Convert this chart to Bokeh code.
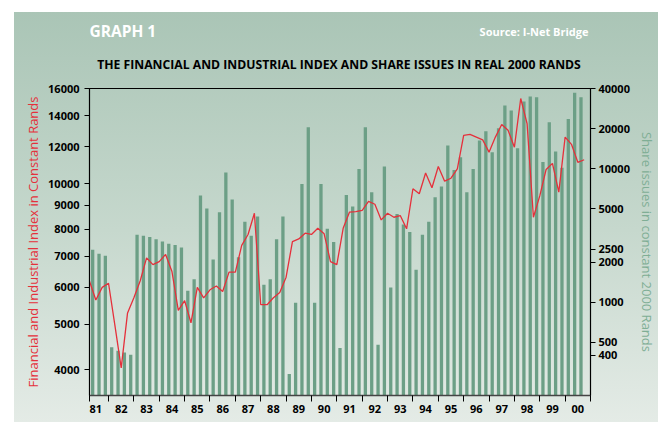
from bokeh.plotting import figure
from bokeh.layouts import column
from bokeh.models import (Range1d, LogScale, LogAxis, FixedTicker,
                          NumeralTickFormatter, Label, ColumnDataSource)
from bokeh.embed import file_html
from bokeh.resources import INLINE

# ---------------- data ----------------
first_year = 1981
first_quarter = 2          # series start in the 2nd quarter of 1981
last_year = 2000

year_labels = ["81", "82", "83", "84", "85", "86", "87", "88", "89", "90",
               "91", "92", "93", "94", "95", "96", "97", "98", "99", "00"]

left_ticks = [4000, 5000, 6000, 7000, 8000, 9000, 10000, 12000, 14000, 16000]
right_ticks = [400, 500, 1000, 2000, 2500, 5000, 10000, 20000, 40000]

# Share issues in constant 2000 Rands (quarterly bars, right axis)
share_issues = [
    2470, 2310, 2230,                       # 81
    460, 433, 420, 404,                     # 82
    3210, 3150, 3080, 2960,                 # 83
    2850, 2740, 2690, 2570,                 # 84
    1220, 1490, 6300, 5040,                 # 85
    2090, 4720, 9370, 5880,                 # 86
    2170, 4020, 3150, 4390,                 # 87
    1350, 1490, 2960, 4390,                 # 88
    290, 990, 7710, 20500,                  # 89
    990, 7710, 3560, 2830,                  # 90
    454, 6360, 5210, 9990,                  # 91
    20500, 6680, 481, 10400,                # 92
    1290, 4590, 3820, 3360,                 # 93
    1755, 3210, 4020, 6120,                 # 94
    7360, 14940, 9820, 12210,               # 95
    6680, 9990, 16300, 19130,               # 96
    13300, 20150, 29800, 27350,             # 97
    14260, 31950, 34830, 34430,             # 98
    11270, 22340, 13460, 10170,             # 99
    23680, 37100, 34430,                    # 00
]

# Financial and Industrial index in constant Rands (line, left axis)
fi_index = [
    6190, 5640, 6000, 6125, 4980, 4035, 5290, 5700, 6200, 6940,
    6715, 6815, 7060, 6490, 5360, 5620, 5040, 6000, 5700, 5930,
    6040, 5880, 6470, 6470, 7380, 7790, 8650, 5510, 5510, 5700,
    5850, 6310, 7520, 7620, 7840, 7790, 8030, 7815, 6815, 6715,
    8030, 8700, 8720, 8770, 9170, 9040, 8370, 8650, 8480, 8550,
    8010, 9760, 9520, 10550, 9810, 10890, 10130, 10280, 10770, 12700,
    12760, 12590, 12420, 11690, 12590, 13400, 13020, 11980, 15230, 13460,
    8480, 9420, 10730, 11060, 9600, 12590, 12150, 11120, 11260,
]

graph_no = "GRAPH 1"
source_text = "Source: I-Net Bridge"
title_text = "THE FINANCIAL AND INDUSTRIAL INDEX AND SHARE ISSUES IN REAL 2000 RANDS"
left_title = "Financial and Industrial Index in Constant Rands"
right_title = "Share issues in constant 2000 Rands"

# ---------------- derived positions ----------------
x_start = first_year + (first_quarter - 1) / 4.0
x_end = last_year + 1.0
bar_x = [x_start + 0.25 * i + 0.125 for i in range(len(share_issues))]
line_x = [x_start + 0.25 * i for i in range(len(fi_index))]
years = list(range(first_year, last_year + 1))
label_pos = [y + 0.5 for y in years]
boundaries = [x_start] + [y for y in years[1:]] + [x_end]

BAR = "#6c9f86"
RED = "#e5303b"
GREEN_TXT = "#7fae95"
FONT = "Open Sans"
W = 658
BL, BR = 89, 65            # left / right borders shared by both figures
HEAD_H = 78
MAIN_TOP = 10
FRAME_H = 307
MAIN_H = 352

# ---------------- header (texts) ----------------
head = figure(width=W, height=HEAD_H, x_range=Range1d(BL, W - BR),
              y_range=Range1d(HEAD_H, 0), output_backend="svg",
              toolbar_location=None, x_axis_location=None,
              y_axis_location=None, min_border_left=BL,
              min_border_right=BR, min_border_top=0, min_border_bottom=0)
head.background_fill_color = None
head.border_fill_color = None
head.outline_line_color = None
head.grid.visible = False


def add_text(txt, x, y, size, color, style="bold", align="left"):
    head.add_layout(Label(x=x, y=y, text=txt, text_font=FONT,
                          text_font_size=size, text_font_style=style,
                          text_color=color, text_align=align,
                          text_baseline="middle"))


add_text(graph_no, 89, 30, "15.5px", "white")
add_text(source_text, 591, 31, "11px", "white", align="right")
add_text(title_text, 340, 64, "12.2px", "black", align="center")

# ---------------- main chart ----------------
p = figure(width=W, height=MAIN_H,
           x_range=Range1d(x_start, x_end),
           y_range=Range1d(3521, 16000), y_axis_type="log",
           output_backend="svg", toolbar_location=None,
           min_border_left=BL, min_border_right=BR,
           min_border_top=MAIN_TOP,
           min_border_bottom=MAIN_H - MAIN_TOP - FRAME_H)

p.background_fill_color = None
p.border_fill_color = None
p.outline_line_color = "black"
p.outline_line_width = 1.2
p.grid.visible = False

p.extra_y_ranges = {"shares": Range1d(200, 40000)}
p.extra_y_scales = {"shares": LogScale()}

src_b = ColumnDataSource(dict(x=bar_x, top=share_issues))
p.vbar(x="x", top="top", bottom=200, width=0.13, source=src_b,
       y_range_name="shares", fill_color=BAR, line_color=None)

src_l = ColumnDataSource(dict(x=line_x, y=fi_index))
p.line(x="x", y="y", source=src_l, line_color=RED, line_width=1.3)

# x axis
xa = p.xaxis[0]
xa.ticker = FixedTicker(ticks=label_pos, minor_ticks=boundaries)
xa.major_label_overrides = {lp: lab for lp, lab in zip(label_pos, year_labels)}
xa.major_tick_line_color = None
xa.minor_tick_in = 0
xa.minor_tick_out = 6
xa.minor_tick_line_color = "black"
xa.axis_line_color = "#444444"
xa.axis_line_width = 1.5
xa.major_label_standoff = 3
xa.major_label_text_font = FONT
xa.major_label_text_font_style = "bold"
xa.major_label_text_font_size = "11px"
xa.major_label_text_color = "black"

# left axis
ya = p.yaxis[0]
ya.ticker = FixedTicker(ticks=left_ticks)
ya.formatter = NumeralTickFormatter(format="0")
ya.major_tick_in = 0
ya.major_tick_out = 5
ya.minor_tick_line_color = None
ya.axis_line_color = "black"
ya.major_tick_line_color = "black"
ya.major_label_standoff = 5
ya.major_label_text_font = FONT
ya.major_label_text_font_style = "bold"
ya.major_label_text_font_size = "11px"
ya.major_label_text_color = "black"
ya.axis_label = left_title
ya.axis_label_text_font = FONT
ya.axis_label_text_font_style = "normal"
ya.axis_label_text_font_size = "13px"
ya.axis_label_text_color = RED
ya.axis_label_standoff = 3

# right axis
ra = LogAxis(y_range_name="shares", ticker=FixedTicker(ticks=right_ticks),
             formatter=NumeralTickFormatter(format="0"))
ra.major_tick_in = 0
ra.major_tick_out = 5
ra.minor_tick_line_color = None
ra.axis_line_color = "black"
ra.major_tick_line_color = "black"
ra.major_label_standoff = 3
ra.major_label_text_font = FONT
ra.major_label_text_font_style = "bold"
ra.major_label_text_font_size = "11px"
ra.major_label_text_color = "black"
ra.axis_label = right_title
ra.axis_label_text_font = FONT
ra.axis_label_text_font_style = "normal"
ra.axis_label_text_font_size = "13px"
ra.axis_label_text_color = GREEN_TXT
ra.axis_label_standoff = 5
p.add_layout(ra, "right")

layout = column(head, p, spacing=0)
layout.styles = {
    "background-image": (
        "linear-gradient(to right, #ffffff 0px, #ffffff 14px, rgba(255,255,255,0) 14px), "
        "linear-gradient(to bottom, #ffffff 0px, #ffffff 12px, #aac5b6 12px, "
        "#c6d8cd 230px, #e4ebe6 422px, #ffffff 422px)"
    )
}

open("out.html", "w").write(file_html(layout, INLINE))
